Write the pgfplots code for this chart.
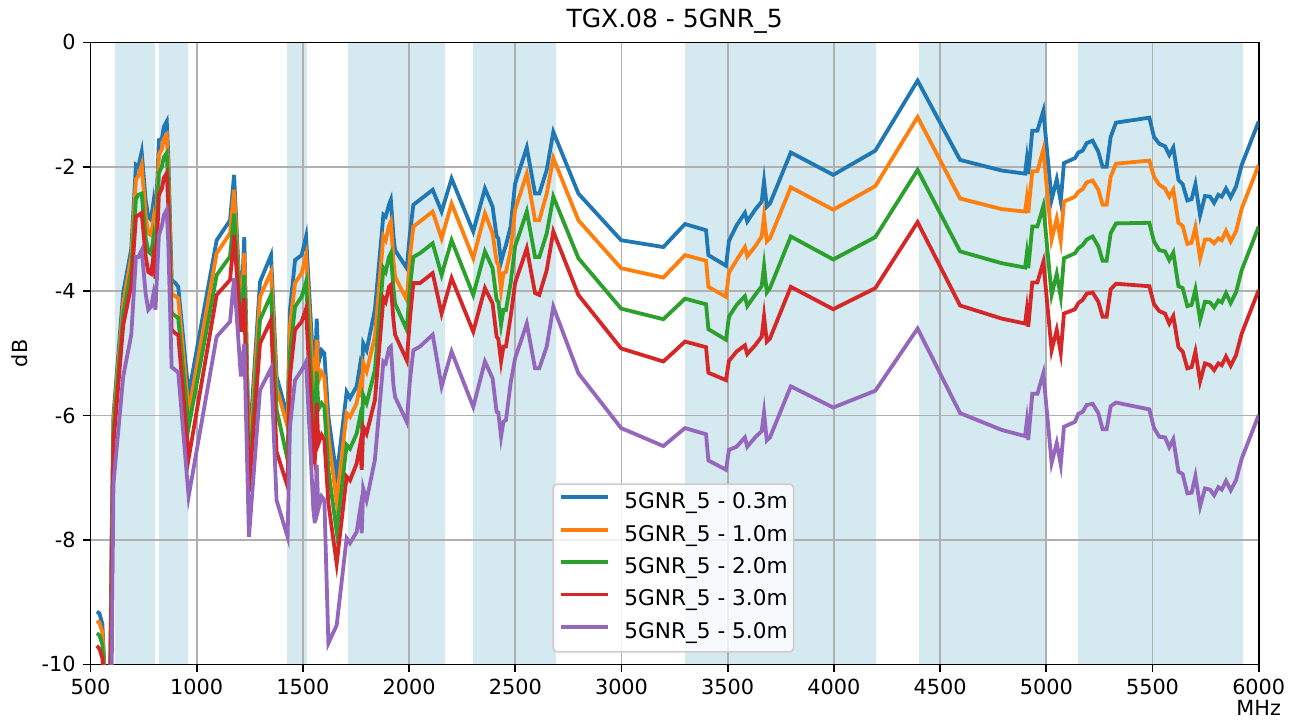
\documentclass[border=0pt]{standalone}
\usepackage{pgfplots}
\usepackage{pgfplotstable}
\pgfplotsset{compat=1.18}
\usepackage{fontspec}
\setmainfont{DejaVu Sans}

\definecolor{c0}{HTML}{1F77B4}
\definecolor{c1}{HTML}{FF7F0E}
\definecolor{c2}{HTML}{2CA02C}
\definecolor{c3}{HTML}{D62728}
\definecolor{c4}{HTML}{9467BD}
\definecolor{band}{RGB}{213,233,240}
\definecolor{gridc}{HTML}{B0B0B0}

% f = MHz, then one column per distance
\pgfplotstableread{
f b o g r p
530 -9.15 -9.30 -9.50 -9.70 -10.3
542 -9.18 -9.33 -9.53 -9.75 -10.4
556 -9.35 -9.48 -9.68 -9.90 -10.5
570 -10.4 -10.5 -10.6 -10.7 -10.9
592 -10.4 -10.5 -10.6 -10.7 -10.9
600 -7.8 -8.0 -8.3 -8.6 -10.0
608 -6.0 -6.1 -6.25 -6.45 -7.1
654 -4.02 -4.20 -4.37 -4.55 -5.37
692 -3.32 -3.45 -3.65 -3.90 -4.70
714 -1.97 -2.20 -2.51 -2.80 -3.45
725 -2.00 -2.15 -2.45 -2.78 -3.45
741 -1.76 -1.97 -2.43 -2.74 -3.34
760 -2.55 -2.80 -3.15 -3.45 -4.05
772 -2.80 -3.07 -3.36 -3.69 -4.30
785 -2.85 -3.10 -3.40 -3.72 -4.25
796 -2.58 -2.85 -3.15 -3.45 -4.05
806 -2.95 -3.20 -3.50 -3.80 -4.30
822 -1.57 -1.80 -2.10 -2.45 -3.10
836 -1.55 -1.72 -2.00 -2.35 -2.95
845 -1.36 -1.55 -1.85 -2.18 -2.78
859 -1.27 -1.49 -1.78 -2.10 -2.69
866 -1.80 -2.00 -2.30 -2.60 -3.20
882 -3.82 -4.05 -4.35 -4.62 -5.22
900 -3.87 -4.08 -4.40 -4.68 -5.27
913 -3.93 -4.11 -4.43 -4.70 -5.30
962 -5.66 -5.95 -6.19 -6.69 -7.30
1094 -3.18 -3.39 -3.74 -4.06 -4.73
1157 -2.86 -3.07 -3.44 -3.82 -4.49
1176 -2.13 -2.37 -2.75 -3.10 -3.79
1208 -4.45 -4.50 -4.55 -4.65 -5.37
1224 -3.13 -3.39 -3.74 -4.11 -4.84
1246 -6.60 -6.80 -7.00 -7.22 -7.95
1298 -3.85 -4.09 -4.46 -4.84 -5.59
1350 -3.42 -3.69 -4.06 -4.46 -5.24
1376 -5.37 -5.55 -5.90 -6.58 -7.36
1428 -6.02 -6.18 -6.71 -7.14 -7.95
1439 -4.30 -4.57 -5.00 -5.37 -6.18
1463 -3.50 -3.87 -4.25 -4.62 -5.43
1494 -3.42 -3.71 -4.09 -4.49 -5.27
1515 -3.12 -3.42 -3.85 -4.28 -5.13
1549 -5.20 -5.50 -6.00 -6.60 -7.50
1556 -5.40 -5.70 -6.20 -6.74 -7.73
1565 -4.44 -4.78 -5.29 -5.80 -6.79
1573 -5.16 -5.45 -5.90 -6.45 -7.50
1588 -4.95 -5.30 -5.80 -6.31 -7.30
1601 -5.00 -5.37 -5.86 -6.39 -7.36
1620 -6.02 -6.34 -6.87 -7.41 -9.66
1659 -6.98 -7.38 -7.87 -8.38 -9.37
1706 -5.62 -5.96 -6.47 -6.98 -7.97
1722 -5.72 -6.02 -6.53 -7.04 -8.05
1753 -5.53 -5.80 -6.29 -6.77 -7.87
1769 -5.19 -5.51 -6.02 -6.47 -7.52
1777 -5.32 -5.70 -6.18 -6.87 -7.89
1784 -4.84 -5.16 -5.67 -6.18 -7.17
1800 -4.95 -5.29 -5.80 -6.29 -7.36
1839 -4.30 -4.73 -5.27 -5.75 -6.71
1879 -2.77 -3.12 -3.63 -4.11 -5.13
1890 -2.80 -3.18 -3.69 -4.17 -5.16
1905 -2.61 -2.95 -3.45 -3.93 -4.92
1914 -2.53 -2.88 -3.39 -3.90 -4.89
1926 -3.10 -3.50 -3.95 -4.45 -5.50
1934 -3.34 -3.77 -4.20 -4.70 -5.70
1989 -3.63 -4.14 -4.62 -5.11 -6.10
2004 -3.07 -3.45 -3.93 -4.44 -5.43
2020 -2.61 -2.96 -3.45 -3.87 -4.95
2051 -2.53 -2.88 -3.39 -3.87 -4.89
2111 -2.37 -2.72 -3.23 -3.71 -4.70
2153 -2.72 -3.15 -3.74 -4.36 -5.53
2200 -2.19 -2.59 -3.18 -3.79 -4.97
2302 -3.04 -3.47 -4.06 -4.65 -5.86
2357 -2.35 -2.75 -3.36 -3.95 -5.13
2393 -2.64 -3.07 -3.63 -4.20 -5.40
2412 -3.12 -3.53 -4.14 -4.73 -5.94
2420 -3.15 -3.57 -4.17 -4.77 -5.95
2433 -3.53 -3.98 -4.54 -5.13 -6.34
2444 -3.39 -3.71 -4.30 -4.89 -6.10
2456 -3.26 -3.69 -4.30 -4.89 -6.07
2478 -2.96 -3.34 -3.87 -4.41 -5.48
2499 -2.27 -2.69 -3.28 -3.87 -5.08
2554 -1.69 -2.11 -2.72 -3.31 -4.52
2593 -2.43 -2.86 -3.45 -4.03 -5.24
2613 -2.43 -2.86 -3.45 -4.06 -5.24
2648 -2.05 -2.43 -3.07 -3.66 -4.89
2679 -1.44 -1.86 -2.48 -3.04 -4.25
2797 -2.43 -2.86 -3.47 -4.06 -5.32
2998 -3.18 -3.63 -4.28 -4.92 -6.20
3197 -3.29 -3.78 -4.45 -5.13 -6.49
3299 -2.92 -3.42 -4.12 -4.81 -6.20
3398 -3.02 -3.51 -4.21 -4.90 -6.30
3409 -3.42 -3.93 -4.61 -5.31 -6.72
3492 -3.59 -4.09 -4.78 -5.43 -6.87
3506 -3.19 -3.70 -4.41 -5.12 -6.55
3542 -2.94 -3.50 -4.22 -4.97 -6.50
3581 -2.74 -3.29 -4.08 -4.87 -6.35
3592 -2.88 -3.44 -4.24 -5.01 -6.50
3629 -2.69 -3.28 -4.06 -4.87 -6.35
3660 -2.56 -3.12 -3.92 -4.73 -6.25
3671 -2.23 -2.79 -3.59 -4.40 -5.95
3684 -2.64 -3.20 -4.02 -4.81 -6.40
3699 -2.59 -3.15 -3.95 -4.76 -6.35
3797 -1.77 -2.33 -3.12 -3.93 -5.53
3997 -2.13 -2.69 -3.49 -4.29 -5.87
4195 -1.74 -2.31 -3.13 -3.95 -5.60
4394 -0.615 -1.20 -2.05 -2.89 -4.60
4594 -1.89 -2.51 -3.36 -4.23 -5.96
4790 -2.06 -2.68 -3.55 -4.44 -6.23
4900 -2.11 -2.72 -3.62 -4.52 -6.33
4908 -1.88 -2.51 -3.40 -4.30 -6.10
4915 -2.12 -2.74 -3.63 -4.57 -6.39
4934 -1.42 -2.07 -2.96 -3.86 -5.65
4958 -1.42 -2.07 -2.96 -3.86 -5.65
4986 -1.10 -1.72 -2.63 -3.53 -5.32
5025 -2.53 -3.17 -4.06 -4.95 -6.76
5049 -2.20 -2.83 -3.72 -4.62 -6.44
5068 -2.56 -3.19 -4.09 -4.99 -6.79
5083 -1.94 -2.56 -3.47 -4.36 -6.18
5135 -1.86 -2.48 -3.39 -4.29 -6.10
5151 -1.77 -2.40 -3.31 -4.19 -5.97
5171 -1.74 -2.36 -3.26 -4.14 -5.94
5190 -1.62 -2.25 -3.17 -4.04 -5.83
5218 -1.58 -2.22 -3.12 -4.02 -5.81
5245 -1.76 -2.37 -3.28 -4.17 -5.96
5265 -2.00 -2.61 -3.51 -4.41 -6.22
5284 -2.00 -2.61 -3.51 -4.41 -6.22
5303 -1.52 -2.16 -3.07 -3.97 -5.85
5328 -1.29 -1.95 -2.91 -3.88 -5.79
5485 -1.21 -1.90 -2.90 -3.92 -5.90
5507 -1.52 -2.16 -3.20 -4.21 -6.20
5532 -1.63 -2.29 -3.34 -4.32 -6.34
5559 -1.67 -2.35 -3.36 -4.36 -6.35
5579 -1.81 -2.48 -3.50 -4.52 -6.51
5598 -1.69 -2.37 -3.38 -4.40 -6.38
5622 -2.21 -2.90 -3.92 -4.90 -6.90
5642 -2.28 -2.95 -3.95 -4.97 -6.94
5664 -2.54 -3.24 -4.24 -5.24 -7.25
5684 -2.52 -3.22 -4.22 -5.22 -7.24
5702 -2.28 -2.97 -3.97 -4.97 -6.97
5724 -2.78 -3.47 -4.46 -5.45 -7.46
5747 -2.47 -3.17 -4.17 -5.16 -7.17
5771 -2.48 -3.17 -4.18 -5.19 -7.19
5790 -2.58 -3.23 -4.26 -5.27 -7.28
5810 -2.45 -3.15 -4.15 -5.16 -7.15
5826 -2.48 -3.18 -4.18 -5.19 -7.19
5846 -2.35 -3.03 -4.03 -5.05 -7.05
5868 -2.49 -3.20 -4.19 -5.20 -7.20
5893 -2.32 -3.04 -4.02 -5.03 -7.04
5920 -1.97 -2.67 -3.66 -4.68 -6.69
6000 -1.27 -1.97 -2.96 -3.98 -5.99
}\loss

\begin{document}
\begin{tikzpicture}
\begin{axis}[
  name=ax,
  set layers,
  clip mode=individual,
  scale only axis,
  width=584.1pt, height=311pt,
  xmin=500, xmax=6000, ymin=-10, ymax=0,
  xtick={500,1000,1500,2000,2500,3000,3500,4000,4500,5000,5500,6000},
  xticklabels={500,1000,1500,2000,2500,3000,3500,4000,4500,5000,5500,6000},
  ytick={-10,-8,-6,-4,-2,0},
  yticklabels={-10,-8,-6,-4,-2,0},
  tick pos=left,
  tick align=outside,
  major tick length=3.64pt,
  tick style={black, line width=0.83pt},
  axis line style={black, line width=0.83pt},
  grid=major,
  major grid style={gridc, line width=0.83pt},
  ticklabel style={font=\fontsize{10.4}{12}\selectfont, inner sep=0pt},
  xticklabel style={yshift=-3.6pt},
  yticklabel style={xshift=-3.6pt},
  title={TGX.08 - 5GNR\_5},
  title style={at={(0.5,1)}, anchor=base, yshift=1.5pt, inner sep=0pt,
    font=\fontsize{12.5}{15}\selectfont},
  xlabel={MHz},
  xlabel style={at={(axis description cs:1,-0.07)}, anchor=center,
    font=\fontsize{10.4}{12}\selectfont},
  ylabel={dB},
  ylabel style={at={(axis description cs:-0.0604,0.5)}, anchor=center, rotate=0,
    font=\fontsize{10.4}{12}\selectfont},
  legend style={at={(0.3953,0.0188)}, anchor=south west,
    draw=black!20, line width=0.8pt, rounded corners=2pt,
    fill=white, fill opacity=0.8, text opacity=1,
    inner xsep=3pt, inner ysep=4.3pt,
    font=\fontsize{10.8}{13}\selectfont,
    row sep=5.7pt, column sep=7.5pt,
    nodes={inner sep=0pt, text height=8pt, text depth=2.5pt}},
  legend cell align=left,
  legend image code/.code={\draw[#1] (0pt,3pt) -- (23.3pt,3pt);},
  every axis plot/.append style={line width=1.9pt},
]
% frequency bands behind the grid
\addplot[forget plot, on layer=axis background, draw=none, fill=band, line width=0pt] coordinates {(617,-10) (617,0) (803,0) (803,-10)} -- cycle;
\addplot[forget plot, on layer=axis background, draw=none, fill=band, line width=0pt] coordinates {(824,-10) (824,0) (960,0) (960,-10)} -- cycle;
\addplot[forget plot, on layer=axis background, draw=none, fill=band, line width=0pt] coordinates {(1427,-10) (1427,0) (1518,0) (1518,-10)} -- cycle;
\addplot[forget plot, on layer=axis background, draw=none, fill=band, line width=0pt] coordinates {(1710,-10) (1710,0) (2170,0) (2170,-10)} -- cycle;
\addplot[forget plot, on layer=axis background, draw=none, fill=band, line width=0pt] coordinates {(2300,-10) (2300,0) (2690,0) (2690,-10)} -- cycle;
\addplot[forget plot, on layer=axis background, draw=none, fill=band, line width=0pt] coordinates {(3300,-10) (3300,0) (4200,0) (4200,-10)} -- cycle;
\addplot[forget plot, on layer=axis background, draw=none, fill=band, line width=0pt] coordinates {(4400,-10) (4400,0) (5000,0) (5000,-10)} -- cycle;
\addplot[forget plot, on layer=axis background, draw=none, fill=band, line width=0pt] coordinates {(5150,-10) (5150,0) (5925,0) (5925,-10)} -- cycle;

\addplot[c0, no markers] table[x=f, y=b] {\loss};
\addlegendentry{5GNR\_5 - 0.3m}
\addplot[c1, no markers] table[x=f, y=o] {\loss};
\addlegendentry{5GNR\_5 - 1.0m}
\addplot[c2, no markers] table[x=f, y=g] {\loss};
\addlegendentry{5GNR\_5 - 2.0m}
\addplot[c3, no markers] table[x=f, y=r] {\loss};
\addlegendentry{5GNR\_5 - 3.0m}
\addplot[c4, no markers] table[x=f, y=p] {\loss};
\addlegendentry{5GNR\_5 - 5.0m}
\end{axis}
\pgfresetboundingbox
\path[use as bounding box] ([xshift=-45.25pt, yshift=-27.8pt]ax.south west) rectangle ([xshift=20.15pt, yshift=21.2pt]ax.north east);
\end{tikzpicture}
\end{document}
